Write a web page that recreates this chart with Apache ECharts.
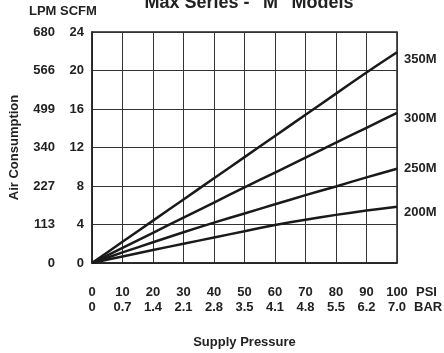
<!DOCTYPE html>
<html>
<head>
<meta charset="utf-8">
<script src="https://cdn.jsdelivr.net/npm/echarts@6/dist/echarts.min.js"></script>
<style>
  html, body { margin: 0; padding: 0; background: #fff; }
  #chart { width: 444px; height: 353px; }
</style>
</head>
<body>
<div id="chart"></div>
<script>
  // supply pressure (PSI) and matching BAR labels
  var psi = [0, 10, 20, 30, 40, 50, 60, 70, 80, 90, 100];
  var barLabels = ['0', '0.7', '1.4', '2.1', '2.8', '3.5', '4.1', '4.8', '5.5', '6.2', '7.0'];
  // air consumption ticks: SCFM and LPM (as printed)
  var scfmTicks = [0, 4, 8, 12, 16, 20, 24];
  var lpmLabels = ['0', '113', '227', '340', '499', '566', '680'];

  // SCFM per model, read at each PSI step
  var m350 = [0, 2.2, 4.4, 6.6, 8.8, 11.0, 13.2, 15.4, 17.6, 19.8, 21.9];
  var m300 = [0, 1.57, 3.14, 4.71, 6.28, 7.85, 9.4, 10.95, 12.5, 14.05, 15.6];
  var m250 = [0, 1.1, 2.15, 3.2, 4.2, 5.15, 6.1, 7.05, 7.95, 8.9, 9.8];
  var m200 = [0, 0.68, 1.35, 2.0, 2.65, 3.3, 3.95, 4.5, 5.0, 5.45, 5.85];

  var seriesNames = ['350M', '300M', '250M', '200M'];
  var seriesData = [m350, m300, m250, m200];
  var labelOffsets = [[2, 7], [2, 6], [2, 0], [2, 6]];

  var font = 'Liberation Sans, Arial, sans-serif';
  var txt = { color: '#222', fontWeight: 'bold', fontSize: 13, fontFamily: font };

  var myChart = echarts.init(document.getElementById('chart'));

  var series = seriesNames.map(function (name, i) {
    return {
      name: name,
      type: 'line',
      xAxisIndex: 0,
      yAxisIndex: 0,
      symbol: 'none',
      smooth: 0.2,
      lineStyle: { color: '#1a1a1a', width: 2.5 },
      data: psi.map(function (p, j) { return [p, seriesData[i][j]]; }),
      endLabel: {
        show: true,
        formatter: name,
        distance: 5,
        offset: labelOffsets[i],
        color: '#222', fontWeight: 'bold', fontSize: 13, fontFamily: font
      },
      animation: false
    };
  });

  myChart.setOption({
    animation: false,
    title: {
      text: 'Max Series - "M" Models',
      left: 244, top: -11,
      textAlign: 'center',
      textStyle: { color: '#222', fontWeight: 'bold', fontSize: 18, fontFamily: font }
    },
    graphic: [
      { type: 'text', left: 29, top: 5, style: { text: 'LPM SCFM', fill: '#222', font: 'bold 13px ' + font } },
      { type: 'text', left: 416, top: 286, style: { text: 'PSI', fill: '#222', font: 'bold 13px ' + font } },
      { type: 'text', left: 414, top: 301, style: { text: 'BAR', fill: '#222', font: 'bold 13px ' + font } }
    ],
    grid: {
      left: 92, right: 47, top: 32, bottom: 90,
      outerBoundsMode: 'none',
      containLabel: false,
      show: true, borderColor: '#222', borderWidth: 1.5
    },
    xAxis: [
      {
        type: 'value', min: 0, max: 100, interval: 10,
        position: 'bottom',
        name: 'Supply Pressure', nameLocation: 'middle', nameGap: 73,
        nameTextStyle: txt,
        axisLine: { show: true, lineStyle: { color: '#222', width: 1.5 } },
        axisTick: { show: false },
        axisLabel: Object.assign({ margin: 23 }, txt),
        splitLine: { show: true, lineStyle: { color: '#333', width: 1 } }
      },
      {
        type: 'value', min: 0, max: 100, interval: 10,
        position: 'bottom', offset: 15,
        axisLine: { show: false },
        axisTick: { show: false },
        axisLabel: Object.assign({
          margin: 23,
          formatter: function (v) { return barLabels[psi.indexOf(v)]; }
        }, txt),
        splitLine: { show: false }
      }
    ],
    yAxis: [
      {
        type: 'value', min: 0, max: 24, interval: 4,
        position: 'left',
        axisLine: { show: true, lineStyle: { color: '#222', width: 1.5 } },
        axisTick: { show: false },
        axisLabel: Object.assign({ margin: 8 }, txt),
        splitLine: { show: true, lineStyle: { color: '#333', width: 1 } }
      },
      {
        type: 'value', min: 0, max: 24, interval: 4,
        position: 'left', offset: 29,
        name: 'Air Consumption', nameLocation: 'middle', nameGap: 42,
        nameTextStyle: txt,
        axisLine: { show: false },
        axisTick: { show: false },
        axisLabel: Object.assign({
          margin: 8,
          formatter: function (v) { return lpmLabels[scfmTicks.indexOf(v)]; }
        }, txt),
        splitLine: { show: false }
      }
    ],
    series: series
  });
</script>
</body>
</html>
